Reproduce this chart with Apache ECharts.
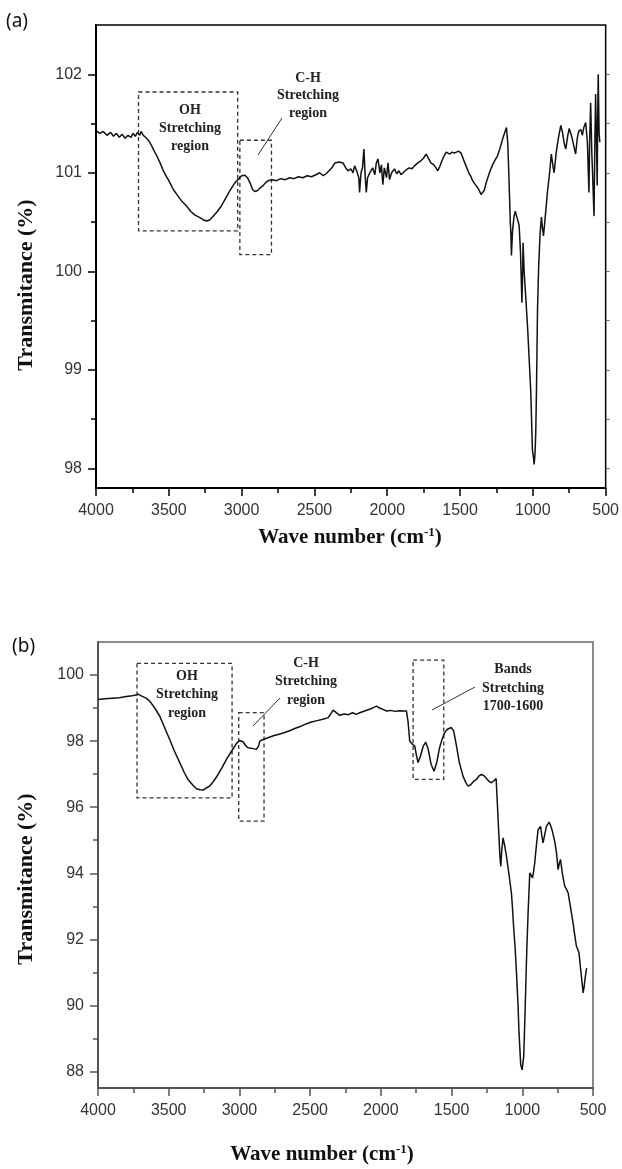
<!DOCTYPE html>
<html>
<head>
<meta charset="utf-8">
<script src="https://cdn.jsdelivr.net/npm/echarts@6/dist/echarts.min.js"></script>
<style>
  html, body { margin: 0; padding: 0; background: #fff; }
  #chart { width: 622px; height: 1169px; }
</style>
</head>
<body>
<div id="chart"></div>
<script>
// spectrum (a)
const wnA = [4000, 3975, 3950, 3925, 3900, 3880, 3860, 3840, 3820, 3800, 3780, 3760, 3745, 3730, 3715, 3700, 3690, 3675, 3660, 3640,
  3620, 3600, 3582, 3560, 3540, 3520, 3500, 3469, 3440, 3410, 3377, 3350, 3320, 3286, 3260, 3240, 3220, 3200, 3171, 3140,
  3110, 3080, 3050, 3020, 3000, 2977, 2960, 2940, 2925, 2909, 2890, 2870, 2852, 2835, 2818, 2790, 2760, 2730, 2700, 2670,
  2640, 2610, 2580, 2550, 2520, 2490, 2464, 2440, 2420, 2407, 2380, 2360, 2349, 2330, 2304, 2285, 2270, 2250, 2235, 2224,
  2210, 2195, 2190, 2180, 2170, 2160, 2152, 2144, 2135, 2120, 2100, 2085, 2075, 2064, 2050, 2040, 2030, 2020, 2005, 1995,
  1984, 1970, 1960, 1950, 1935, 1920, 1905, 1893, 1870, 1850, 1830, 1813, 1790, 1770, 1750, 1733, 1715, 1700, 1680, 1665,
  1653, 1640, 1625, 1610, 1595, 1585, 1570, 1555, 1540, 1527, 1510, 1493, 1475, 1459, 1440, 1425, 1414, 1395, 1375, 1356,
  1345, 1334, 1320, 1305, 1288, 1270, 1255, 1243, 1225, 1208, 1195, 1181, 1172, 1163, 1155, 1151, 1147, 1140, 1130, 1121,
  1110, 1100, 1094, 1085, 1075, 1070, 1067, 1060, 1048, 1035, 1025, 1014, 1003, 995, 991, 985, 980, 975, 968, 960,
  950, 941, 935, 927, 915, 900, 885, 873, 860, 854, 840, 825, 808, 795, 785, 774, 760, 750, 740, 730,
  720, 706, 695, 685, 671, 660, 650, 637, 625, 615, 610, 603, 595, 590, 580, 575, 569, 563, 558, 555,
  551, 545, 540];
const tA = [101.43, 101.40, 101.42, 101.38, 101.41, 101.37, 101.40, 101.36, 101.39, 101.35, 101.38, 101.36, 101.40, 101.37, 101.41, 101.38, 101.42, 101.38, 101.36, 101.33,
  101.28, 101.22, 101.17, 101.10, 101.03, 100.97, 100.92, 100.83, 100.77, 100.71, 100.66, 100.61, 100.57, 100.545, 100.52, 100.51, 100.52, 100.55, 100.60, 100.66,
  100.74, 100.82, 100.89, 100.94, 100.97, 100.975, 100.95, 100.89, 100.83, 100.81, 100.82, 100.85, 100.87, 100.90, 100.92, 100.93, 100.92, 100.94, 100.93, 100.95,
  100.94, 100.96, 100.95, 100.97, 100.96, 100.98, 101.00, 100.97, 100.99, 100.98, 101.05, 101.10, 101.12, 101.11, 101.10, 101.05, 101.02, 101.04, 101.00, 101.07,
  101.02, 100.95, 100.80, 101.00, 101.05, 101.24, 100.98, 100.80, 100.95, 101.00, 101.05, 100.98, 101.10, 101.14, 101.00, 101.08, 100.88, 101.05, 100.95, 101.10,
  100.93, 101.00, 100.98, 101.04, 100.99, 101.02, 100.98, 101.00, 101.03, 101.05, 101.04, 101.07, 101.10, 101.12, 101.15, 101.19, 101.14, 101.10, 101.08, 101.05,
  101.02, 101.06, 101.12, 101.17, 101.21, 101.22, 101.19, 101.21, 101.20, 101.19, 101.22, 101.20, 101.13, 101.07, 101.00, 100.96, 100.92, 100.88, 100.84, 100.78,
  100.80, 100.82, 100.90, 100.97, 101.04, 101.10, 101.14, 101.17, 101.25, 101.34, 101.40, 101.46, 101.30, 100.90, 100.50, 100.39, 100.16, 100.40, 100.55, 100.61,
  100.55, 100.50, 100.46, 100.20, 99.68, 100.00, 100.29, 100.00, 99.72, 99.40, 99.10, 98.77, 98.19, 98.10, 98.04, 98.15, 98.36, 98.80, 99.61, 100.05,
  100.39, 100.55, 100.45, 100.36, 100.55, 100.80, 101.00, 101.19, 101.05, 101.00, 101.20, 101.35, 101.48, 101.40, 101.30, 101.24, 101.38, 101.45, 101.46, 101.35,
  101.28, 101.19, 101.35, 101.42, 101.44, 101.38, 101.46, 101.51, 101.30, 100.80, 101.30, 101.71, 101.20, 101.00, 100.56, 101.20, 101.80, 101.30, 100.87, 101.50,
  102.00, 101.40, 101.31];

// spectrum (b)
const wnB = [4000, 3950, 3900, 3850, 3799, 3760, 3740, 3717, 3690, 3660, 3634, 3600, 3564, 3530, 3493, 3460, 3422, 3390, 3364, 3330,
  3304, 3280, 3257, 3235, 3210, 3180, 3151, 3120, 3092, 3055, 3021, 2998, 2975, 2955, 2939, 2910, 2880, 2865, 2856, 2833,
  2798, 2760, 2720, 2680, 2640, 2609, 2570, 2530, 2490, 2450, 2410, 2373, 2355, 2338, 2315, 2291, 2260, 2230, 2200, 2173,
  2150, 2137, 2110, 2090, 2070, 2050, 2031, 2010, 1990, 1960, 1930, 1900, 1870, 1840, 1819, 1808, 1800, 1796, 1780, 1760,
  1750, 1737, 1720, 1700, 1683, 1665, 1645, 1624, 1605, 1585, 1571, 1550, 1530, 1501, 1485, 1465, 1445, 1419, 1400, 1383,
  1365, 1345, 1324, 1305, 1289, 1270, 1250, 1235, 1218, 1200, 1185, 1171, 1164, 1158, 1152, 1145, 1136, 1125, 1112, 1095,
  1080, 1077, 1070, 1060, 1050, 1041, 1030, 1023, 1011, 1001, 990, 983, 976, 968, 959, 947, 938, 928, 920, 912,
  900, 888, 871, 862, 853, 840, 829, 811, 800, 787, 770, 758, 747, 738, 730, 715, 700, 688, 676, 660,
  641, 630, 617, 608, 599, 590, 582, 575, 570, 563, 557, 550, 545];
const tB = [99.26, 99.28, 99.30, 99.31, 99.35, 99.37, 99.39, 99.42, 99.36, 99.30, 99.21, 99.01, 98.76, 98.42, 98.05, 97.70, 97.35, 97.05, 96.84, 96.67,
  96.56, 96.53, 96.52, 96.58, 96.64, 96.80, 96.99, 97.22, 97.45, 97.70, 97.93, 98.02, 97.98, 97.86, 97.80, 97.78, 97.75, 97.85, 98.00, 98.05,
  98.10, 98.16, 98.21, 98.26, 98.32, 98.38, 98.44, 98.52, 98.58, 98.62, 98.66, 98.71, 98.82, 98.94, 98.86, 98.78, 98.82, 98.80, 98.86, 98.81,
  98.86, 98.84, 98.92, 98.95, 98.98, 99.02, 99.06, 99.00, 98.97, 98.91, 98.93, 98.90, 98.92, 98.91, 98.91, 98.60, 98.20, 98.00, 97.92, 97.85,
  97.60, 97.35, 97.55, 97.85, 97.97, 97.75, 97.30, 97.09, 97.35, 97.80, 98.00, 98.25, 98.36, 98.41, 98.30, 97.85, 97.35, 96.94, 96.75, 96.64,
  96.68, 96.78, 96.84, 96.95, 96.99, 96.95, 96.85, 96.78, 96.74, 96.80, 96.87, 96.89, 95.02, 94.50, 94.21, 94.70, 95.07, 94.85, 94.52, 94.00,
  93.50, 93.41, 93.00, 92.29, 91.70, 90.98, 90.00, 89.16, 88.20, 88.05, 88.45, 89.40, 90.48, 91.70, 92.80, 94.01, 94.00, 93.86, 94.05, 94.31,
  94.85, 95.32, 95.42, 95.15, 94.92, 95.20, 95.42, 95.55, 95.45, 95.27, 94.95, 94.62, 94.11, 94.30, 94.42, 93.95, 93.61, 93.52, 93.41, 93.00,
  92.50, 92.15, 91.79, 91.70, 91.59, 91.20, 90.88, 90.60, 90.38, 90.55, 90.78, 91.00, 91.13];

const yMajorA = [98, 99, 100, 101, 102];
const yMinorA = [98.5, 99.5, 100.5, 101.5];
const yMajorB = [88, 90, 92, 94, 96, 98, 100];
const yMinorB = [89, 91, 93, 95, 97, 99];

// dashed boxes [wnLeft, tTop, wnRight, tBottom]
const boxesA = [[3708, 101.82, 3027, 100.41], [3012, 101.33, 2795, 100.17]];
const boxesB = [[3724, 100.35, 3052, 96.28], [3005, 98.86, 2826, 95.58], [1772, 100.45, 1555, 96.84]];

const chart = echarts.init(document.getElementById('chart'));

const tickFont = { fontSize: 16, color: '#333', fontFamily: '"Liberation Sans", Arial, sans-serif' };
const serif = '"Liberation Serif", "Times New Roman", serif';

function xAxisFor(gridIndex, color) {
  return {
    type: 'value', gridIndex: gridIndex, inverse: true,
    min: 500, max: 4000, interval: 500,
    axisLine: { show: true, onZero: false, lineStyle: { color: color, width: 2 } },
    axisTick: { show: true, inside: false, length: 8, lineStyle: { color: color, width: 1.5 } },
    minorTick: { show: true, splitNumber: 2, length: 5, lineStyle: { color: color, width: 1.5 } },
    axisLabel: Object.assign({ margin: 15, formatter: v => String(v) }, tickFont),
    splitLine: { show: false }
  };
}

function yAxisFor(gridIndex, min, max, values, opts) {
  return Object.assign({
    type: 'value', gridIndex: gridIndex, min: min, max: max, position: 'left',
    axisLine: { show: false },
    axisTick: { show: true, inside: false, length: 8, customValues: values, lineStyle: { color: '#000', width: 1.5 } },
    axisLabel: { show: false },
    splitLine: { show: false }
  }, opts);
}

function boxData(boxes, dash) {
  return boxes.map(b => [
    { xAxis: b[0], yAxis: b[1], itemStyle: { color: 'rgba(0,0,0,0)', borderColor: '#333', borderWidth: 1.3, borderType: dash } },
    { xAxis: b[2], yAxis: b[3] }
  ]);
}

function stack(x, ys, lines) {
  return lines.map((t, i) => ({
    type: 'text', x: x, y: ys[i], silent: true,
    style: { text: t, font: 'bold 14px ' + serif, fill: '#222', align: 'center', verticalAlign: 'middle' }
  }));
}

function leader(x1, y1, x2, y2) {
  return { type: 'line', silent: true, shape: { x1: x1, y1: y1, x2: x2, y2: y2 }, style: { stroke: '#333', lineWidth: 1 } };
}

function yTitle(y) {
  return {
    type: 'text', x: 26, y: y, rotation: Math.PI / 2, silent: true,
    style: { text: 'Transmitance (%)', font: 'bold 22px ' + serif, fill: '#111', align: 'center', verticalAlign: 'middle' }
  };
}

function xTitle(x, y) {
  return {
    type: 'text', x: x, y: y, silent: true,
    style: {
      text: '{a|Wave number (cm}{s|-1}{a|)}', align: 'center', verticalAlign: 'middle',
      rich: {
        a: { font: 'bold 21px ' + serif, fill: '#111', lineHeight: 24 },
        s: { font: 'bold 13px ' + serif, fill: '#111', lineHeight: 13, verticalAlign: 'top' }
      }
    }
  };
}

const option = {
  animation: false,
  backgroundColor: '#fff',
  grid: [
    { left: 96, top: 25, width: 511, height: 463, show: true, borderColor: '#000', borderWidth: 1.5 },
    { left: 98, top: 642, width: 495, height: 446, show: true, borderColor: '#666', borderWidth: 1.5 }
  ],
  xAxis: [xAxisFor(0, '#000'), xAxisFor(1, '#555')],
  yAxis: [
    yAxisFor(0, 97.8, 102.5, yMajorA, {
      axisLine: { show: true, lineStyle: { color: '#000', width: 2 } },
      axisLabel: Object.assign({ show: true, margin: 14, customValues: yMajorA }, tickFont)
    }),
    yAxisFor(0, 97.8, 102.5, yMinorA, { axisTick: { show: true, length: 5, customValues: yMinorA, lineStyle: { color: '#000', width: 1.5 } } }),
    yAxisFor(0, 97.8, 102.5, yMajorA.concat(yMinorA), { position: 'right', axisTick: { show: true, length: 4, customValues: yMajorA.concat(yMinorA), lineStyle: { color: '#666', width: 1 } } }),
    yAxisFor(1, 87.5, 101, yMajorB, {
      axisLine: { show: true, lineStyle: { color: '#555', width: 2 } },
      axisTick: { show: true, length: 8, customValues: yMajorB, lineStyle: { color: '#555', width: 1.5 } },
      axisLabel: Object.assign({ show: true, margin: 14, customValues: yMajorB }, tickFont)
    }),
    yAxisFor(1, 87.5, 101, yMinorB, { axisTick: { show: true, length: 5, customValues: yMinorB, lineStyle: { color: '#555', width: 1.5 } } })
  ],
  series: [
    {
      type: 'line', xAxisIndex: 0, yAxisIndex: 0, showSymbol: false, silent: true,
      lineStyle: { color: '#111', width: 1.5 },
      data: wnA.map((w, i) => [w, tA[i]]),
      markArea: { silent: true, label: { show: false }, data: boxData(boxesA, [4, 3]) }
    },
    {
      type: 'line', xAxisIndex: 1, yAxisIndex: 3, showSymbol: false, silent: true,
      lineStyle: { color: '#111', width: 1.5 },
      data: wnB.map((w, i) => [w, tB[i]]),
      markArea: { silent: true, label: { show: false }, data: boxData(boxesB, [4, 3]) }
    }
  ],
  graphic: [
    { type: 'text', x: 6, y: 22, silent: true, style: { text: '(a)', font: '19px "Noto Sans"', fill: '#111', verticalAlign: 'middle' } },
    { type: 'text', x: 12, y: 647, silent: true, style: { text: '(b)', font: '19px "Noto Sans"', fill: '#111', verticalAlign: 'middle' } },
    yTitle(285), yTitle(879),
    xTitle(350, 538), xTitle(322, 1155),
    leader(258, 155, 282, 118),
    leader(253, 726, 280, 698),
    leader(432, 710, 475, 687)
  ].concat(
    stack(190, [110, 128, 146], ['OH', 'Stretching', 'region']),
    stack(308, [78, 95.5, 113], ['C-H', 'Stretching', 'region']),
    stack(187, [676, 694.5, 713], ['OH', 'Stretching', 'region']),
    stack(306, [663, 681.5, 700], ['C-H', 'Stretching', 'region']),
    stack(513, [669, 688, 706], ['Bands', 'Stretching', '1700-1600'])
  )
};

chart.setOption(option);
</script>
</body>
</html>
